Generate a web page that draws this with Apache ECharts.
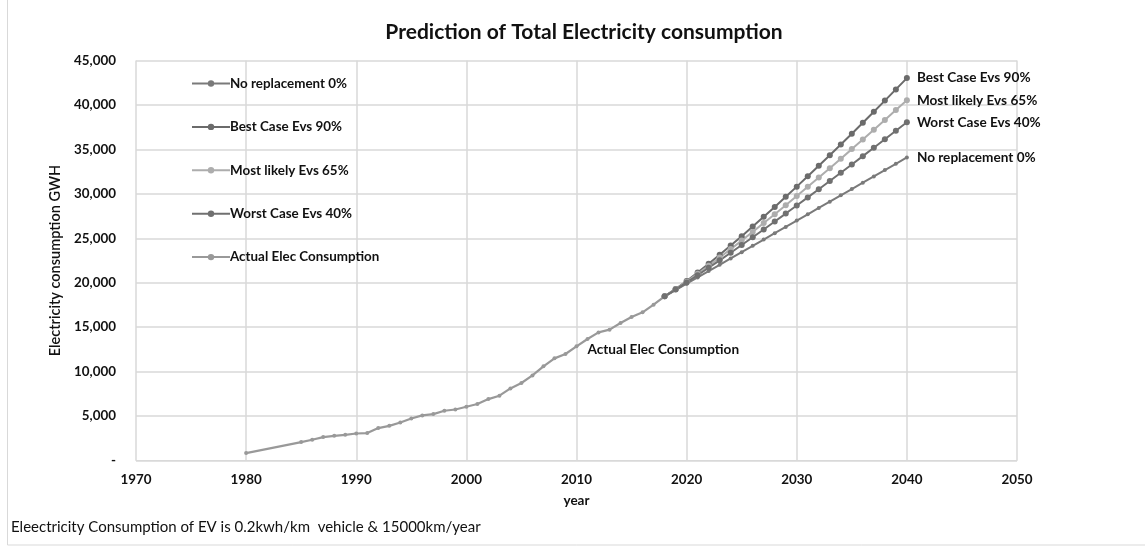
<!DOCTYPE html>
<html>
<head>
<meta charset="utf-8">
<script src="https://cdn.jsdelivr.net/npm/echarts@6/dist/echarts.min.js"></script>
<style>
  html, body { margin: 0; padding: 0; background: #fff; }
  #chart { width: 1145px; height: 548px; }
</style>
</head>
<body>
<div id="chart"></div>
<script>
// Historical consumption (GWh)
const actualYears = [1980, 1985, 1986, 1987, 1988, 1989, 1990, 1991, 1992, 1993, 1994, 1995, 1996, 1997, 1998, 1999,
  2000, 2001, 2002, 2003, 2004, 2005, 2006, 2007, 2008, 2009, 2010, 2011, 2012, 2013, 2014, 2015, 2016, 2017, 2018, 2019, 2020];
const actualValues = [830, 2070, 2330, 2630, 2780, 2890, 3040, 3080, 3650, 3900, 4280, 4730, 5070, 5220, 5600, 5740,
  6050, 6350, 6910, 7290, 8110, 8720, 9570, 10590, 11490, 11980, 12840, 13670, 14410, 14720, 15470, 16150, 16670, 17530, 18470, 19220, 19980];

// Projection years 2018..2040
const projYears = [2018, 2019, 2020, 2021, 2022, 2023, 2024, 2025, 2026, 2027, 2028, 2029, 2030,
  2031, 2032, 2033, 2034, 2035, 2036, 2037, 2038, 2039, 2040];
const noReplacement = [18470, 19180, 19890, 20600, 21310, 22020, 22730, 23440, 24150, 24860, 25570, 26280, 26990,
  27700, 28410, 29120, 29830, 30540, 31250, 31960, 32670, 33380, 34090];
const bestCase = [18470, 19300, 20200, 21150, 22130, 23140, 24180, 25240, 26320, 27420, 28530, 29660, 30810,
  31980, 33150, 34340, 35550, 36760, 37990, 39230, 40490, 41750, 43020];
const mostLikely = [18470, 19270, 20120, 21000, 21900, 22830, 23780, 24740, 25720, 26710, 27710, 28720, 29750,
  30790, 31830, 32890, 33960, 35030, 36120, 37210, 38310, 39420, 40540];
const worstCase = [18470, 19230, 20030, 20840, 21680, 22520, 23370, 24240, 25110, 25990, 26890, 27780, 28690,
  29600, 30520, 31440, 32370, 33300, 34240, 35190, 36140, 37100, 38060];

const seriesNames = ['No replacement 0%', 'Best Case Evs 90%', 'Most likely Evs 65%', 'Worst Case Evs 40%', 'Actual Elec Consumption'];
const yTicks = { 0: '-' };

const FONT = 'Lato, "Open Sans", sans-serif';
const pair = (xs, ys) => xs.map((x, i) => [x, ys[i]]);

function projSeries(name, values, color, width, size) {
  return {
    name, type: 'line', data: pair(projYears, values),
    symbol: 'circle', symbolSize: size,
    lineStyle: { color, width }, itemStyle: { color },
    z: 3,
    endLabel: {
      show: true, formatter: name, distance: 10,
      color: '#111', fontFamily: FONT, fontWeight: 'bold', fontSize: 13.6
    }
  };
}

const actualData = pair(actualYears, actualValues).map(p => ({ value: p }));
const idx2010 = actualYears.indexOf(2010);
actualData[idx2010] = {
  value: [2010, actualValues[idx2010]],
  label: {
    show: true, position: 'right', offset: [4, 3], formatter: 'Actual Elec Consumption',
    color: '#111', fontFamily: FONT, fontWeight: 'bold', fontSize: 13.6
  }
};

const chart = echarts.init(document.getElementById('chart'), null, { renderer: 'canvas' });
chart.setOption({
  backgroundColor: '#fff',
  animation: false,
  title: {
    text: 'Prediction of Total Electricity consumption',
    left: 579, top: 17, textAlign: 'center',
    textStyle: { fontFamily: FONT, fontWeight: 'bold', fontSize: 21, color: '#111' }
  },
  legend: {
    orient: 'vertical', left: 186, top: 72, itemGap: 30.4,
    itemWidth: 38, itemHeight: 8,
    data: seriesNames,
    textStyle: { fontFamily: FONT, fontWeight: 'bold', fontSize: 13.4, color: '#111', padding: [0, 0, 0, -5] }
  },
  grid: { left: 136, right: 128, top: 60.5, bottom: 87.5 },
  xAxis: {
    type: 'value', min: 1970, max: 2050, interval: 10,
    name: 'year', nameLocation: 'middle', nameGap: 33,
    nameTextStyle: { fontFamily: FONT, fontWeight: 'bold', fontSize: 13.5, color: '#111' },
    axisLine: { show: true, lineStyle: { color: '#d9d9d9', width: 1 } },
    axisTick: { show: false },
    splitLine: { show: true, lineStyle: { color: '#d9d9d9', width: 1.5 } },
    axisLabel: {
      margin: 13, fontFamily: FONT, fontWeight: 'bold', fontSize: 13.4, color: '#111',
      formatter: v => String(v)
    }
  },
  yAxis: {
    type: 'value', min: 0, max: 45000, interval: 5000,
    name: 'Electricity consumption GWH', nameLocation: 'middle', nameGap: 72, nameRotate: 90,
    nameTextStyle: { fontFamily: FONT, fontSize: 14.5, color: '#111', fontWeight: 600 },
    axisLine: { show: false }, axisTick: { show: false },
    splitLine: { show: true, lineStyle: { color: '#d9d9d9', width: 1.5 } },
    axisLabel: {
      margin: 20, fontFamily: FONT, fontWeight: 'bold', fontSize: 13.4, color: '#111',
      formatter: v => (v in yTicks ? yTicks[v] : v.toLocaleString('en-US'))
    }
  },
  series: [
    projSeries(seriesNames[0], noReplacement, '#7a7a7a', 2, 4),
    projSeries(seriesNames[1], bestCase, '#6b6b6b', 2, 6),
    projSeries(seriesNames[2], mostLikely, '#adadad', 2, 6),
    projSeries(seriesNames[3], worstCase, '#707070', 2, 6),
    {
      name: seriesNames[4], type: 'line', data: actualData,
      symbol: 'circle', symbolSize: 4,
      lineStyle: { color: '#999', width: 2.2 }, itemStyle: { color: '#999' }, z: 2
    }
  ],
  graphic: [
    {
      type: 'rect', shape: { x: 7.5, y: -2, width: 1300, height: 547 },
      style: { fill: 'none', stroke: '#d9d9d9', lineWidth: 1 }, silent: true
    },
    {
      type: 'text', left: 11, top: 520,
      style: {
        text: 'Eleectricity Consumption of EV is 0.2kwh/km  vehicle & 15000km/year',
        font: '15px ' + FONT, fill: '#111'
      }
    }
  ]
});
</script>
</body>
</html>
